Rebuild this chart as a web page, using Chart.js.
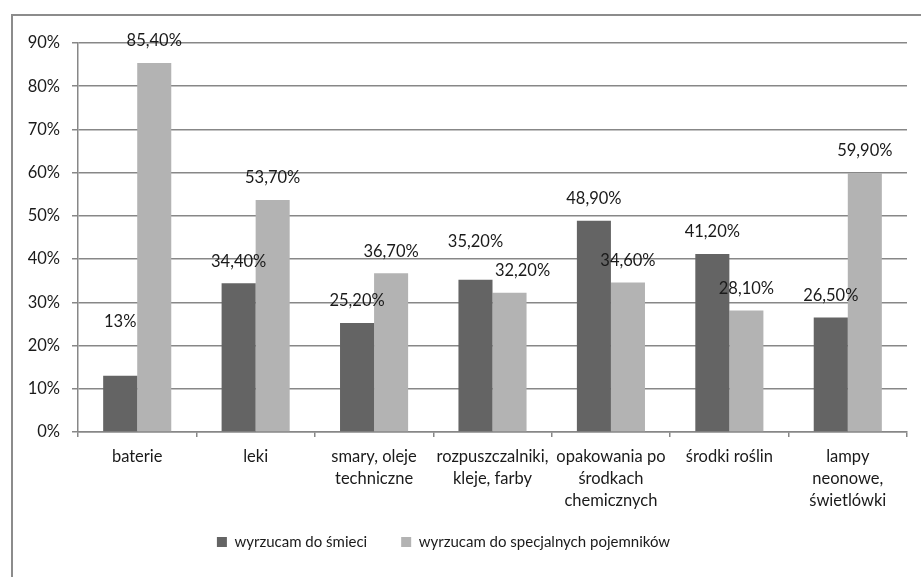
<!DOCTYPE html>
<html>
<head>
<meta charset="utf-8">
<script src="https://cdn.jsdelivr.net/npm/chart.js@4"></script>
<style>
  html, body { margin: 0; padding: 0; background: #fff; overflow: hidden; }
  body { width: 921px; height: 577px; position: relative; }
  #frame { position: absolute; left: 11px; top: 14px; width: 1200px; height: 900px; border: 2px solid #8c8c8c; box-sizing: border-box; }
  #wrap { position: absolute; left: -20px; top: 0; width: 941px; height: 577px; }
</style>
</head>
<body>
<div id="frame"></div>
<div id="wrap"><canvas id="chart" width="941" height="577"></canvas></div>
<script>
const categories = [
  "baterie",
  "leki",
  ["smary, oleje", "techniczne"],
  ["rozpuszczalniki,", "kleje, farby"],
  ["opakowania po", "środkach", "chemicznych"],
  "środki roślin",
  ["lampy", "neonowe,", "świetlówki"],
];
const seriesNames = ["wyrzucam do śmieci", "wyrzucam do specjalnych pojemników"];
const trashValues = [13, 34.4, 25.2, 35.2, 48.9, 41.2, 26.5];
const specialValues = [85.4, 53.7, 36.7, 32.2, 34.6, 28.1, 59.9];
const yTicks = [0, 10, 20, 30, 40, 50, 60, 70, 80, 90];

// manual label shifts (px), like in the original sheet
const labelShift = [
  [[0, -32], [0, 0], [0, 0], [0, -16], [0, 0], [0, 0], [0, 0]],
  [[0, 0], [0, 0], [0, 0], [13, 0], [0, 0], [0, 0], [0, 0]],
];

const FONT = "Lato";
const textColor = "#1a1a1a";
const gridColor = "#878787";

function fmt(v) {
  if (Number.isInteger(v)) return v + "%";
  return v.toFixed(2).replace(".", ",") + "%";
}

const valueLabels = {
  id: "valueLabels",
  afterDatasetsDraw(chart) {
    const ctx = chart.ctx;
    ctx.save();
    ctx.font = "16.5px " + FONT;
    ctx.fillStyle = textColor;
    ctx.textAlign = "center";
    ctx.textBaseline = "middle";
    chart.data.datasets.forEach((ds, i) => {
      chart.getDatasetMeta(i).data.forEach((bar, j) => {
        const s = labelShift[i][j];
        ctx.fillText(fmt(ds.data[j]), bar.x + s[0], bar.y - 22 + s[1]);
      });
    });
    ctx.restore();
  },
};

// legend sits a bit higher than the layout puts it
const legendUp = {
  id: "legendUp",
  afterLayout(chart) {
    const lg = chart.legend;
    lg.top -= 15.5;
    lg.bottom -= 15.5;
  },
};

Chart.defaults.font.family = FONT;
Chart.defaults.font.size = 16.5;
Chart.defaults.color = textColor;

new Chart(document.getElementById("chart"), {
  type: "bar",
  data: {
    labels: categories,
    datasets: [
      {
        label: seriesNames[0],
        data: trashValues,
        backgroundColor: "#646464",
      },
      {
        label: seriesNames[1],
        data: specialValues,
        backgroundColor: "#b3b3b3",
      },
    ],
  },
  options: {
    responsive: false,
    animation: false,
    events: [],
    layout: { padding: { left: 0, right: 14, top: 43, bottom: 2 } },
    datasets: {
      bar: { categoryPercentage: 0.575, barPercentage: 1 },
    },
    scales: {
      x: {
        grid: {
          offset: true,
          drawOnChartArea: false,
          color: gridColor,
          lineWidth: 1.5,
          tickLength: 5,
        },
        border: { color: gridColor, width: 1.5 },
        ticks: {
          maxRotation: 0,
          autoSkip: false,
          padding: 9,
          font: { size: 16.5, lineHeight: 1.333 },
          color: textColor,
        },
        afterFit(scale) {
          scale.height = 84;
        },
      },
      y: {
        min: 0,
        max: 90,
        afterBuildTicks(scale) {
          scale.ticks = yTicks.map((v) => ({ value: v }));
        },
        grid: { color: gridColor, lineWidth: 1.5, tickLength: 6 },
        border: { color: gridColor, width: 1.5 },
        ticks: {
          padding: 12,
          color: textColor,
          font: { size: 16.5 },
          callback: (v) => v + "%",
        },
        afterFit(scale) {
          scale.width = 98;
        },
      },
    },
    plugins: {
      legend: {
        position: "bottom",
        labels: {
          boxWidth: 10,
          boxHeight: 10,
          padding: 34,
          color: textColor,
          font: { size: 15 },
        },
      },
      tooltip: { enabled: false },
    },
  },
  plugins: [valueLabels, legendUp],
});
</script>
</body>
</html>
